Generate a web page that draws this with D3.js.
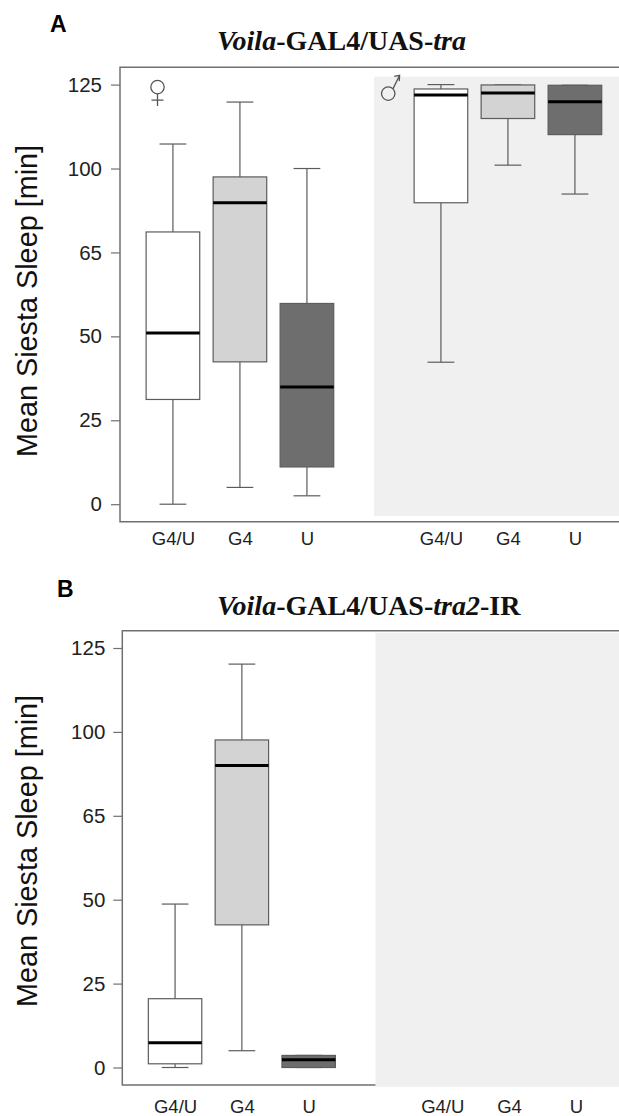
<!DOCTYPE html>
<html>
<head>
<meta charset="utf-8">
<script src="https://cdn.jsdelivr.net/npm/d3@7"></script>
<style>
  body { margin: 0; background: #fff; }
  svg { display: block; }
</style>
</head>
<body>
<div id="chart"></div>
<script>
// categories: 3 female groups, gap, 3 male groups
const groups = ['G4/U', 'G4', 'U', 'G4/U', 'G4', 'U']
const slots = [1, 2, 3, 5, 6, 7]
const yTicks = [0, 25, 50, 75, 100, 125]
const yTickLabels = ['0', '25', '50', '65', '100', '125']
const fills = ['#ffffff', '#d3d3d3', '#6e6e6e']

// panel A: Voila-GAL4/UAS-tra (female then male)
const aMin = [0, 5.0, 2.5, 42.3, 101.0, 92.4]
const aQ1 = [31.2, 42.4, 11.1, 89.8, 114.9, 110.1]
const aMed = [51.0, 89.8, 34.9, 121.9, 122.5, 119.9]
const aQ3 = [81.1, 97.5, 59.8, 123.7, 124.9, 124.8]
const aMax = [107.3, 119.8, 100.0, 125.0, 124.9, 124.8]

// panel B: Voila-GAL4/UAS-tra2-IR (female only)
const bMin = [0, 5.0, 0]
const bQ1 = [1.1, 42.5, 0]
const bMed = [7.4, 90.0, 2.3]
const bQ3 = [20.5, 97.6, 3.6]
const bMax = [48.7, 120.2, 3.6]

const width = 619
const height = 1116

const svg = d3.select('#chart')
    .append('svg')
    .attr('width', width)
    .attr('height', height)

function drawPanel(p) {
    const g = svg.append('g')

    const x = d3.scaleLinear()
        .domain([0.21, 7.21])
        .range([p.left, p.left + 7 * p.step])

    const y = d3.scaleLinear()
        .domain([0, 125])
        .range([p.bottom - 17.5, p.top + 17.3])

    // frame: left, top and bottom (runs off the right edge)
    g.append('path')
        .attr('d', `M${width + 5},${p.top}H${p.left}V${p.bottom}H${width + 5}`)
        .attr('fill', 'none')
        .attr('stroke', '#707070')
        .attr('stroke-width', 1.5)

    // male half shading
    g.append('rect')
        .attr('x', x(4))
        .attr('y', p.top + p.shadeTop)
        .attr('width', width - x(4) + 5)
        .attr('height', (p.bottom + p.shadeBottom) - (p.top + p.shadeTop))
        .attr('fill', '#f0f0f0')

    const data = p.med.map((m, i) => ({
        slot: slots[i], fill: fills[i % 3],
        min: p.min[i], q1: p.q1[i], med: m, q3: p.q3[i], max: p.max[i]
    }))
    const bw = 0.8 * p.step

    const box = g.append('g')
        .selectAll('g')
        .data(data)
        .join('g')

    box.append('line')
        .attr('x1', d => x(d.slot)).attr('x2', d => x(d.slot))
        .attr('y1', d => y(d.max)).attr('y2', d => y(d.q3))
    box.append('line')
        .attr('x1', d => x(d.slot)).attr('x2', d => x(d.slot))
        .attr('y1', d => y(d.q1)).attr('y2', d => y(d.min))
    box.append('line')
        .attr('x1', d => x(d.slot) - bw / 4).attr('x2', d => x(d.slot) + bw / 4)
        .attr('y1', d => y(d.max)).attr('y2', d => y(d.max))
    box.append('line')
        .attr('x1', d => x(d.slot) - bw / 4).attr('x2', d => x(d.slot) + bw / 4)
        .attr('y1', d => y(d.min)).attr('y2', d => y(d.min))
    box.selectAll('line')
        .attr('stroke', '#5c5c5c')
        .attr('stroke-width', 1.2)

    box.append('rect')
        .attr('x', d => x(d.slot) - bw / 2)
        .attr('y', d => y(d.q3))
        .attr('width', bw)
        .attr('height', d => y(d.q1) - y(d.q3))
        .attr('fill', d => d.fill)
        .attr('stroke', '#5c5c5c')
        .attr('stroke-width', 1.2)

    box.append('line')
        .attr('x1', d => x(d.slot) - bw / 2).attr('x2', d => x(d.slot) + bw / 2)
        .attr('y1', d => y(d.med)).attr('y2', d => y(d.med))
        .attr('stroke', '#000')
        .attr('stroke-width', 3)

    // y axis
    g.append('g')
        .attr('transform', `translate(${p.left},0)`)
        .call(d3.axisLeft(y).tickValues(yTicks).tickFormat((d, i) => yTickLabels[i]).tickSize(9).tickPadding(p.tickPad))
        .call(a => a.select('.domain').remove())
        .call(a => a.selectAll('line').attr('stroke', '#707070').attr('stroke-width', 1.2))
        .call(a => a.selectAll('text').attr('fill', '#222').attr('font-size', 20.5)
            .attr('font-family', 'Liberation Sans, Arial, sans-serif'))

    // x axis labels
    g.append('g')
        .attr('transform', `translate(0,${p.bottom})`)
        .call(d3.axisBottom(x).tickValues(slots).tickFormat((d, i) => groups[i]).tickSize(0).tickPadding(p.labelPad))
        .call(a => a.select('.domain').remove())
        .call(a => a.selectAll('text').attr('fill', '#222').attr('font-size', 18.5)
            .attr('font-family', 'Liberation Sans, Arial, sans-serif'))

    // y label
    g.append('text')
        .attr('transform', `translate(36.5,${p.labelCy}) rotate(-90)`)
        .attr('text-anchor', 'middle')
        .attr('font-family', 'Liberation Sans, Arial, sans-serif')
        .attr('font-size', 28.8)
        .attr('fill', '#111')
        .text('Mean Siesta Sleep [min]')

    // panel letter
    g.append('text')
        .attr('x', p.letterX)
        .attr('y', p.titleY - 18.5)
        .attr('font-family', 'Liberation Sans, Arial, sans-serif')
        .attr('font-weight', 'bold')
        .attr('font-size', 23)
        .text(p.letter)

    // title
    const t = g.append('text')
        .attr('x', 217)
        .attr('y', p.titleY)
        .attr('font-family', 'Liberation Serif, Times New Roman, serif')
        .attr('font-weight', 'bold')
        .attr('font-size', 28)
        .attr('fill', '#111')
    p.title.forEach(part => {
        t.append('tspan')
            .attr('font-style', part[1] ? 'italic' : 'normal')
            .text(part[0])
    })

    if (p.symbols) {
        // female sign
        const fx = p.left + 37.5, fy = y(125) + 2.5
        g.append('path')
            .attr('d', `M${fx},${fy + 6.7}V${fy + 19}M${fx - 6},${fy + 13}H${fx + 6}`)
            .attr('fill', 'none').attr('stroke', '#555').attr('stroke-width', 1.3)
        g.append('circle')
            .attr('cx', fx).attr('cy', fy).attr('r', 6.7)
            .attr('fill', 'none').attr('stroke', '#555').attr('stroke-width', 1.3)
        // male sign
        const mx = x(4) + 14.3, my = y(125) + 9
        g.append('circle')
            .attr('cx', mx).attr('cy', my).attr('r', 6.7)
            .attr('fill', 'none').attr('stroke', '#555').attr('stroke-width', 1.3)
        g.append('path')
            .attr('d', `M${mx + 4.7},${my - 4.7}L${mx + 11.4},${my - 18.3}M${mx + 6},${my - 17.3}L${mx + 11.4},${my - 18.3}L${mx + 11},${my - 12.5}`)
            .attr('fill', 'none').attr('stroke', '#555').attr('stroke-width', 1.3)
    }
}

drawPanel({
    letter: 'A', letterX: 50, titleY: 50,
    title: [['Voila', true], ['-GAL4/UAS-', false], ['tra', true]],
    left: 120, top: 67.3, bottom: 521.7, step: 67,
    shadeTop: 9.4, shadeBottom: -5.7,
    tickPad: 9, labelPad: 10.2, labelCy: 301,
    min: aMin, q1: aQ1, med: aMed, q3: aQ3, max: aMax,
    symbols: true
})

drawPanel({
    letter: 'B', letterX: 57, titleY: 615,
    title: [['Voila', true], ['-GAL4/UAS-', false], ['tra2', true], ['-IR', false]],
    left: 122.3, top: 630.7, bottom: 1085, step: 66.8,
    shadeTop: 2, shadeBottom: 1.7,
    tickPad: 8, labelPad: 15, labelCy: 851,
    min: bMin, q1: bQ1, med: bMed, q3: bQ3, max: bMax,
    symbols: false
})
</script>
</body>
</html>
